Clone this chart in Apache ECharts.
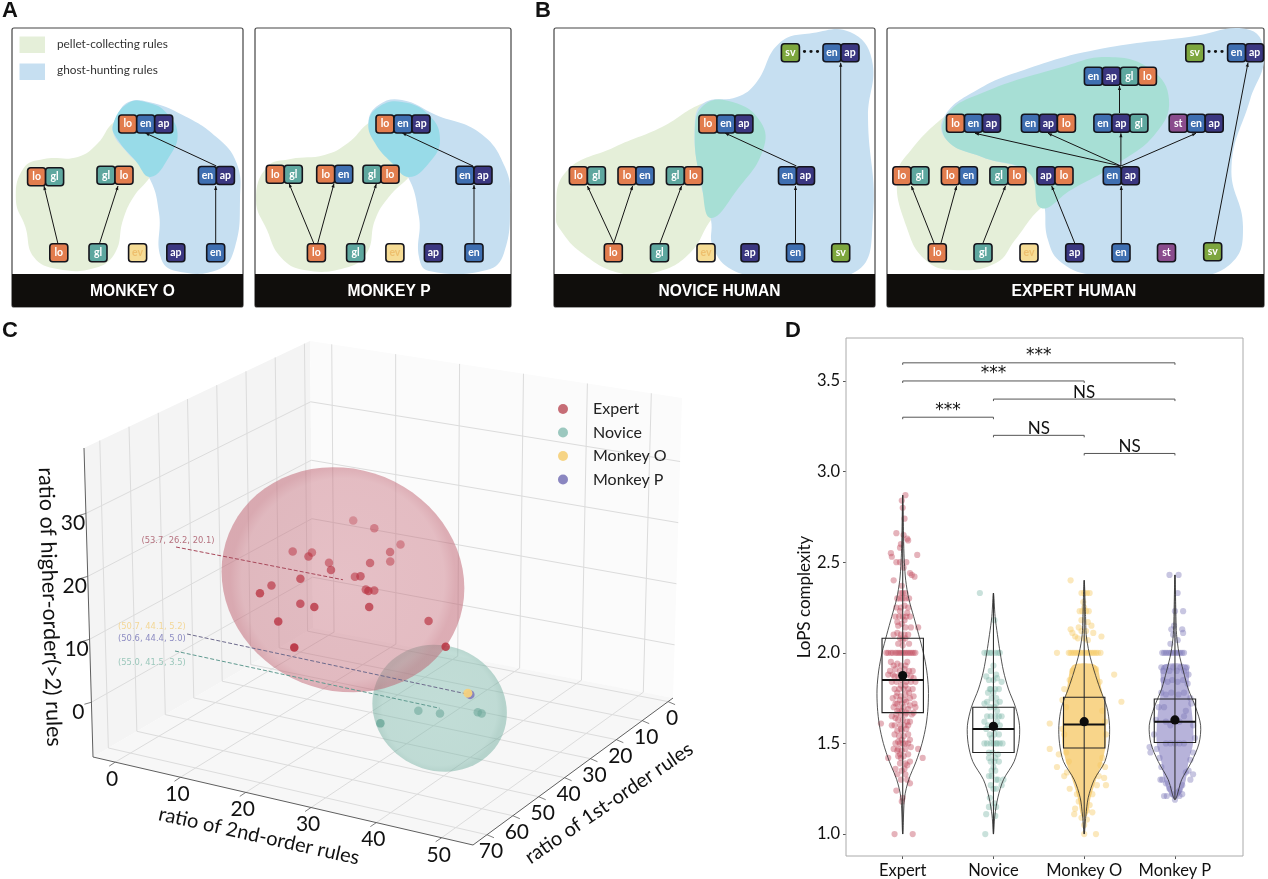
<!DOCTYPE html>
<html><head><meta charset="utf-8"><style>html,body{margin:0;padding:0;background:#fff}#c{width:1268px;height:879px}</style>
<script src="https://cdn.jsdelivr.net/npm/echarts@6/dist/echarts.min.js"></script></head><body><div id="c"></div><script>
// ---------- Panel C values: [1st-order, 2nd-order, higher-order] ----------
const expertFirst=[58.7,48.7,58.7,48.7,58.7,48.7,58.7,48.7,58.7,48.7,58.7,48.7,58.7,48.7,58.7,48.7,58.7,48.7,58.7,48.7,58.7,48.7,58.7,48.7,58.7,48.7];
const expertSecond=[30.05,28.95,37.25,31.35,35.65,28.25,26.25,22.2,20.7,18.75,23.65,17.45,17.35,11.15,21.75,19.55,18.3,16.35,30.2,26.75,31.85,27.95,33.15,28.05,41.45,39.85];
const expertHigher=[31.3,27.5,28.9,24.2,26.0,21.9,24.0,19.6,24.7,21.1,25.1,17.3,18.7,13.7,16.7,13.2,13.2,6.1,22.6,19.5,20.9,17.4,21.0,14.9,17.9,11.0];
const noviceFirst=[55,55,55,55,55];
const noviceSecond=[38.2,41.55,47.4,48.0,32.3];
const noviceHigher=[2.4,2.7,4.1,4.05,-0.8];
const groupMeans={Expert:[53.7,26.2,20.1],Novice:[55.0,41.5,3.5],'Monkey O':[50.7,44.1,5.2],'Monkey P':[50.6,44.4,5.0]};
const groupRadii={Expert:[18,17,16.8],Novice:[10.2,9.5,9.2]};
const groupNames=['Expert','Novice','Monkey O','Monkey P'];
const firstTicks=[0,10,20,30,40,50,60,70];
const secondTicks=[0,10,20,30,40,50];
const higherTicks=[0,10,20,30];
// ---------- Panel D values ----------
const boxStats=[[1.0,1.67,1.85,2.08,2.87],[1.0,1.45,1.58,1.70,2.33],[1.0,1.475,1.605,1.755,2.4],[1.19,1.505,1.62,1.745,2.43]];
const meanValues=[1.875,1.595,1.62,1.63];
const complexityTicks=[1,1.5,2,2.5,3,3.5];
const brackets=[[0,3,3.6,'***'],[0,2,3.5,'***'],[1,3,3.4,'NS'],[0,1,3.3,'***'],[1,2,3.2,'NS'],[2,3,3.1,'NS']];
const violinLevels=[
 [1.0,1.2,1.3,1.4,1.5,1.6,1.7,1.8,1.9,2.0,2.1,2.2,2.3,2.4,2.5,2.6,2.87],
 [1.0,1.1,1.2,1.3,1.4,1.5,1.6,1.7,1.8,1.9,2.0,2.1,2.2,2.33],
 [1.0,1.1,1.2,1.3,1.4,1.5,1.6,1.7,1.8,1.9,2.0,2.1,2.2,2.4],
 [1.19,1.3,1.4,1.5,1.6,1.7,1.8,1.9,2.0,2.1,2.2,2.43]];
const violinWidths=[
 [0,.02,.066,.147,.213,.257,.279,.283,.265,.228,.176,.121,.066,.033,.018,.011,0],
 [0,.015,.048,.11,.228,.279,.287,.243,.165,.11,.074,.044,.018,0],
 [0,.018,.044,.11,.228,.272,.279,.25,.176,.11,.055,.022,.015,0],
 [0,.074,.184,.265,.283,.228,.147,.092,.044,.018,.011,0]];
const denseLevels=[[],[],[1.1,1.2,1.3,1.4,1.5,1.6,1.7,1.8,1.93],[1.2,1.25,1.3,1.4,1.5,1.6,1.7,1.8,1.93]];
const denseWidths=[[],[],[.03,.07,.13,.2,.24,.24,.23,.19,.13],[.03,.09,.12,.15,.2,.2,.18,.15,.14]];
const expertCloud=[[.03,2.87],[-.01,2.84],[0,2.8],[.02,2.74],[-.07,2.66],[.01,2.65],[.05,2.63],[.06,2.62],[-.02,2.6],[-.03,2.58],[-.13,2.55],[-.12,2.53],[.16,2.54],[-.07,2.5],[-.03,2.5],[.04,2.5],[.01,2.47],[.08,2.44],[.1,2.43],[.13,2.42],[-.1,2.4],[-.01,2.37],[-.02,2.33],[0,2.33],[.03,2.33],[-.06,2.3],[-.03,2.3],[0,2.3],[.03,2.3],[.07,2.3],[-.07,2.25],[-.02,2.25],[.02,2.26],[.06,2.25],[-.08,2.2],[-.04,2.2],[0,2.2],[.04,2.2],[.08,2.2],[-.05,2.15],[-.01,2.16],[.03,2.14],[.09,2.14],[.17,2.14],[-.1,2.1],[-.06,2.11],[-.02,2.1],[.02,2.1],[.06,2.1],[-.03,2.08],[0,2.07],[.03,2.08],[-.18,2],[-.16,2],[-.13,2],[-.11,2],[-.08,2],[-.06,2],[-.04,2],[-.02,2],[0,2],[.02,2],[.04,2],[.06,2],[.08,2],[.1,2],[.12,2],[.14,2],[-.1,1.93],[-.06,1.94],[-.02,1.93],[.03,1.93],[-.14,1.9],[-.08,1.91],[-.03,1.9],[.02,1.91],[.07,1.9],[.11,1.9],[-.16,1.88],[-.11,1.88],[-.05,1.87],[.05,1.88],[.09,1.87],[-.12,1.84],[-.07,1.84],[-.01,1.85],[.04,1.84],[.09,1.84],[.14,1.84],[-.09,1.8],[-.04,1.8],[.01,1.8],[.06,1.8],[.11,1.8],[-.07,1.76],[-.02,1.76],[.03,1.77],[.08,1.75],[-.06,1.72],[-.01,1.72],[.04,1.73],[.13,1.72],[-.1,1.7],[-.04,1.69],[.01,1.7],[.06,1.69],[.14,1.7],[.12,1.67],[-.07,1.66],[-.02,1.66],[.03,1.66],[-.12,1.65],[-.05,1.63],[0,1.63],[.05,1.62],[-.09,1.6],[-.03,1.6],[.02,1.6],[-.24,1.61],[-.06,1.57],[-.01,1.57],[.04,1.58],[-.04,1.54],[.01,1.54],[.06,1.55],[-.08,1.5],[-.03,1.5],[0,1.5],[.03,1.5],[.06,1.5],[-.06,1.46],[-.01,1.46],[.03,1.47],[-.05,1.43],[-.02,1.42],[.01,1.43],[-.16,1.42],[.17,1.47],[.22,1.42],[-.03,1.39],[.03,1.39],[.08,1.4],[-.01,1.35],[.02,1.36],[-.06,1.33],[.05,1.3],[.08,1.28],[-.07,1.24],[0,1.2],[-.01,1.18],[-.09,1.0],[.11,1.0],
 [-.13,1.95],[.05,1.95],[-.09,1.87],[.12,1.86],[-.02,1.82],[.03,1.82],[-.06,1.78],[.07,1.78],[-.11,1.75],[.12,1.76],[-.03,1.74],[.02,1.74],[-.08,1.72],[.08,1.71],[-.01,1.68],[.04,1.67],[-.06,1.68],[.1,1.66],[-.08,1.64],[.08,1.62],[-.12,1.6],[.06,1.6],[-.02,1.58],[-.09,1.55],[.08,1.52],[-.01,1.52],[-.05,1.51],[-.1,1.47],[.06,1.44],[-.03,1.44],[.05,1.38],[-.08,1.36],[.03,1.33],[-.02,1.3],[-.05,1.47],[.09,1.48],[.02,2.18],[-.06,2.17],[.05,2.22],[-.03,2.23],[.07,2.05],[-.05,2.05],[0,2.04]];
const noviceCloud=[[-.15,2.33],[.01,2.18],[-.1,2],[-.07,2],[-.04,2],[-.02,2],[.02,2],[.05,2],[.07,2],[0,1.93],[-.03,1.9],[.03,1.88],[-.08,1.87],[-.05,1.85],[0,1.85],[.04,1.86],[.09,1.84],[-.03,1.8],[.02,1.8],[.06,1.8],[-.06,1.78],[-.02,1.75],[.03,1.75],[-.07,1.73],[.07,1.73],[-.04,1.7],[.01,1.7],[.04,1.68],[-.07,1.65],[-.03,1.65],[.02,1.65],[.06,1.65],[.09,1.65],[-.06,1.6],[-.01,1.6],[.04,1.62],[-.08,1.58],[-.04,1.55],[.01,1.55],[.06,1.55],[-.1,1.5],[-.07,1.5],[-.03,1.5],[0,1.5],[.03,1.5],[.07,1.5],[.1,1.5],[-.05,1.45],[-.01,1.45],[.05,1.44],[-.03,1.4],[.02,1.42],[.06,1.4],[0,1.37],[-.02,1.35],[.02,1.35],[-.05,1.32],[.05,1.3],[.11,1.3],[.09,1.27],[-.03,1.27],[.03,1.25],[-.04,1.2],[.01,1.17],[.03,1.15],[-.08,1.11],[.02,1.1],[-.09,1.0],
 [-.04,1.8],[0,1.78],[-.1,1.72],[.03,1.72],[-.1,1.62],[.07,1.6],[.02,1.58],[-.02,1.53],[.04,1.5],[-.05,1.42],[.01,1.4],[-.02,1.32],[.03,1.3],[0,1.25],[-.05,1.15]];
const monkeyOCloud=[[-.15,2.4],[-.03,2.33],[0,2.33],[.03,2.33],[.06,2.33],[-.01,2.28],[0,2.25],[-.05,2.23],[-.02,2.23],[.02,2.23],[.05,2.23],[-.03,2.18],[.04,2.17],[.08,2.15],[-.06,2.14],[-.03,2.12],[.02,2.12],[.1,2.11],[-.15,2.13],[-.13,2.11],[-.1,2.09],[-.07,2.08],[0,2.08],[.04,2.07],[.19,2.09],[-.3,2],[-.17,2],[-.15,2],[-.13,2],[-.11,2],[-.09,2],[-.07,2],[-.05,2],[-.03,2],[-.01,2],[.01,2],[.03,2],[.05,2],[.07,2],[.09,2],[.11,2],[.13,2],[.15,2],[.18,2],[.33,1.88],[-.22,1.8],[.41,1.73],[-.24,1.74],[-.38,1.61],[-.38,1.47],[-.28,1.44],[-.3,1.37],[-.22,1.32],[.23,1.37],[.22,1.31],[.14,1.27],[.24,1.27],[-.16,1.25],[-.08,1.22],[.09,1.22],[-.06,1.18],[.06,1.16],[-.1,1.14],[.03,1.13],[.09,1.12],[-.11,1.11],[-.03,1.09],[.03,1.08],[0,1.05],[.13,1],[0,1],[-.13,1.9],[.13,1.91],[-.16,1.85],[.17,1.84],[-.2,1.7],[.2,1.68],[.23,1.62],[-.24,1.58],[-.22,1.55],[.24,1.55],[-.2,1.45],[.2,1.42],[-.17,1.4],[.18,1.38],[-.19,1.34],[.16,1.32]];
const monkeyPCloud=[[-.06,2.43],[.04,2.43],[.03,2.33],[0,2.23],[.09,2.23],[-.01,2.15],[-.04,2.13],[.08,2.13],[.09,2.11],[-.02,2.1],[-.05,2.05],[.03,2.07],[-.14,2],[-.12,2],[-.1,2],[-.08,2],[-.06,2],[-.04,2],[-.02,2],[0,2],[.02,2],[.04,2],[.06,2],[.08,2],[.1,2],[-.15,1.92],[-.13,1.9],[-.1,1.92],[-.06,1.9],[-.02,1.92],[.02,1.9],[.06,1.92],[.1,1.9],[.13,1.92],[.15,1.88],[-.13,1.85],[-.08,1.84],[-.03,1.85],[.03,1.84],[.09,1.85],[.14,1.83],[-.15,1.78],[-.1,1.77],[-.04,1.78],[.04,1.77],[.1,1.78],[.17,1.75],[-.18,1.7],[-.12,1.7],[.12,1.68],[.18,1.72],[-.21,1.63],[.2,1.6],[-.23,1.55],[.22,1.53],[-.28,1.48],[-.27,1.45],[-.2,1.47],[.2,1.45],[-.17,1.42],[.17,1.41],[-.15,1.37],[.15,1.35],[.12,1.34],[-.14,1.3],[.2,1.33],[.17,1.3],[-.16,1.3],[-.1,1.28],[.08,1.27],[-.06,1.25],[.05,1.24],[.03,1.23],[-.03,1.22],[.05,1.21],[-.09,1.21],[-.12,1.21],[.08,1.22],[0,1.19],[0,1.5],[-.05,1.5],[.05,1.5],[-.1,1.5],[.1,1.5],[-.05,1.6],[.05,1.62],[-.1,1.62],[.1,1.65]];
const cloudByGroup=[expertCloud,noviceCloud,monkeyOCloud,monkeyPCloud];

// ---------- Panels A/B: rule graphs ----------
const tileColors={lo:'#e27d4e',gl:'#5ea79f',en:'#3f6fb1',ap:'#3b3781',ev:'#f6dc95',sv:'#7da63e',st:'#8a4c8d'};
const panelFrames=[[12,243,'MONKEY O',132.5],[255,511,'MONKEY P',389],[554,875,'NOVICE HUMAN',719.5],[887,1264,'EXPERT HUMAN',1074]];
const ruleNodes=[
 ['lo',58.8,252.7],['gl',98,252.7],['ev',137.6,252.7],['ap',175.8,252.7],['en',215.7,252.7],
 ['lo gl',45.6,176.7],['gl lo',115,175.3],['en ap',216.4,175.5],['lo en ap',145.7,124],
 ['lo',316.4,252.7],['gl',355.6,252.7],['ev',394.9,252.7],['ap',433.4,252.7],['en',474,252.7],
 ['lo gl',284.3,174.3],['lo en',334.7,174.3],['gl lo',381,174.3],['en ap',474,175.3],['lo en ap',403,124],
 ['lo',613.3,252.7],['gl',659.5,252.7],['ev',706,252.7],['ap',750,252.7],['en',795.5,252.7],['sv',840.7,252.7],
 ['lo gl',587.4,175.7],['lo en',636,175.7],['gl lo',684.4,175.7],['en ap',796.5,175.7],['lo en ap',725.9,124],['sv',790.4,52.7],['en ap',841,52.7],
 ['lo',937.3,252.7],['gl',983,252.7],['ev',1029,252.7],['ap',1074.7,252.7],['en',1121,252.7],['st',1166.5,252.7],['sv',1212.7,251.7],
 ['lo gl',910.9,175.7],['lo en',959.4,175.7],['gl lo',1007.9,175.7],['ap lo',1055,175.7],['en ap',1121.3,175.7],
 ['lo en ap',973.5,123.3],['en ap lo',1048.4,123.3],['en ap gl',1120.9,123.3],['st en ap',1196.2,123.3],['en ap gl lo',1120.4,76.3],['sv',1194.8,52.7],['en ap',1245.6,52.7]];
const ruleArrows=[[58,244,44,186],[99.7,243,118,186],[215.7,243,215.7,186],[216.4,166,145.4,133],
 [313.7,243,289,183.5],[317.8,243,334,183.5],[357,243,376.3,184],[474,243,474,185],[473,166,402.3,133],
 [613.8,243,587.4,186],[613.8,243,632.6,186],[660,243,681.6,186],[795.5,243,795.5,186],[796.5,166,725,133],[840.7,243,840.7,62.7],
 [934,243,911.4,186],[941,243,956.6,186],[983,243,1005.5,186],[1074.7,243,1051.7,186],[1121.3,243,1121.3,186],[1213.6,243,1248,62.7],
 [1120.9,166,975,133.3],[1120.9,166,1048,133.3],[1120.9,166,1120.9,133.3],[1120.9,166,1196,133.3],[1119.5,113,1119.5,86]];
const blobs=[
 ['#e5efd9',[[15.9,200],[23.7,168],[44,159],[77.8,157],[98,143],[113,123],[135,113],[166,123],[169,143],[150,177],[133.5,197],[123,220],[115,253],[94.7,268],[57.5,269],[33.8,257],[25.4,227]]],
 ['#c6dff1',[[116.6,117],[128.5,102],[148.7,102],[182.6,115],[216.4,137],[236.6,163],[240,200],[235,247],[219.7,269],[175.8,271],[160.6,257],[159,213],[148.7,177],[125,150],[113,132]]],
 ['#98dbe8',[[113,125],[128.5,103],[148.7,103],[165.6,112],[177.5,133],[169,157],[150.4,177],[135,160],[118,140]]],
 ['#e5efd9',[[256,200],[267,167],[290.7,159],[324.5,155],[348,143],[368.5,123],[388.8,112],[429,127],[439.5,143],[409,177],[388.8,197],[375,220],[366.8,253],[344.8,268],[304,270],[280.6,257],[267,230]]],
 ['#c6dff1',[[368.5,123],[378.6,105],[402,100],[436,115],[480,133],[505,167],[510,200],[504,253],[486.8,270],[429,271],[419,257],[419,217],[405.7,173],[378.6,147]]],
 ['#98dbe8',[[368.5,123],[378.6,107],[402,102],[429,115],[440,140],[429,163],[409,177],[392,163],[375,143]]],
 ['#e5efd9',[[556,217],[565,173],[614.7,147],[662,127],[704,103],[732.5,102],[760.7,123],[763,150],[737,190],[711,220],[690,253],[657,272],[619.5,273],[581.8,253],[560.6,230]]],
 ['#c6dff1',[[694.8,123],[704,103],[737,97],[756,83],[779.5,43],[812.5,33],[850,32],[872,60],[868,117],[873,217],[855,272],[765,275],[732.4,270],[713,247],[711,220],[700,180]]],
 ['#a7dfd5',[[694.8,133],[704,105],[732.5,102],[760.7,122],[763,150],[737,190],[711,218],[702,187]]],
 ['#e5efd9',[[897,177],[911,150],[949,113],[982,93],[1062,67],[1109,57],[1151.5,70],[1169,100],[1156,133],[1118.5,163],[1071,190],[1041,208],[1015,240],[996,263],[953.7,270],[925.5,260],[906.6,227]]],
 ['#c6dff1',[[944,117],[946.7,140],[982,157],[1029,173],[1043,200],[1048,240],[1062,263],[1095,275],[1189,277],[1231.5,263],[1243,227],[1231.5,167],[1250,100],[1264,57],[1250,30],[1189,37],[1095,50],[1024,70],[977,90]]],
 ['#a7dfd5',[[946.7,115],[982,93],[1062,67],[1109,57],[1151.5,70],[1169,100],[1156,133],[1118.5,163],[1071,190],[1041,208],[1029,173],[982,157],[946.7,140]]]];

// ---------- layout ----------
const FONT='Lato';
const A_MIN=-1.9,A_MAX=75.4,B_MIN=-3.4,B_MAX=54.8,C_MIN=-8.7,C_MAX=40.4;
const boxBottom={back:[313,628],left:[93,757],right:[673,698],front:[473,845]};
const boxTop={back:[310,341],left:[84,448],right:[682,398],front:[469,515]};
function project(a,b,c){
 const u=(a-A_MIN)/(A_MAX-A_MIN),v=(b-B_MIN)/(B_MAX-B_MIN),w=(c-C_MIN)/(C_MAX-C_MIN);
 const mix=k=>{const q=s=>(1-u)*(1-v)*s.back[k]+u*(1-v)*s.left[k]+(1-u)*v*s.right[k]+u*v*s.front[k];return q(boxBottom)*(1-w)+q(boxTop)*w;};
 return [mix(0),mix(1)];
}
function ellipsePoints(mean,r){
 const c=project(...mean),J=[0,1,2].map(i=>{const m=mean.slice();m[i]+=1;const p=project(...m);return [(p[0]-c[0])*r[i],(p[1]-c[1])*r[i]];});
 let xx=0,xy=0,yy=0;J.forEach(j=>{xx+=j[0]*j[0];xy+=j[0]*j[1];yy+=j[1]*j[1];});
 const l11=Math.sqrt(xx),l21=xy/l11,l22=Math.sqrt(yy-l21*l21),pts=[];
 for(let t=0;t<72;t++){const s=Math.sin(t*Math.PI/36),k=Math.cos(t*Math.PI/36);pts.push([c[0]+l11*k,c[1]+l21*k+l22*s]);}
 return pts;
}
function pageSeries(z,items,draw){
 return {type:'custom',xAxisIndex:0,yAxisIndex:0,coordinateSystem:'cartesian2d',z,silent:true,clip:false,animation:false,
  data:items.map((d,i)=>[i,0]),renderItem:(params,api)=>draw(items[params.dataIndex],p=>api.coord(p))};
}
function plotSeries(z,items,draw){
 return {type:'custom',xAxisIndex:1,yAxisIndex:1,coordinateSystem:'cartesian2d',z,silent:true,clip:false,animation:false,
  data:items.map((d,i)=>[i,1]),renderItem:(params,api)=>draw(items[params.dataIndex],p=>api.coord(p))};
}
const seg=(a,b,stroke,w,dash)=>({type:'line',shape:{x1:a[0],y1:a[1],x2:b[0],y2:b[1]},style:{stroke,lineWidth:w,lineDash:dash||null}});
const txt=(p,text,size,fill,o)=>Object.assign({type:'text',x:p[0],y:p[1],rotation:(o&&o.rot)||0,style:{text,fontSize:size,fontFamily:(o&&o.font)||FONT,fontWeight:(o&&o.weight)||'normal',fill,align:(o&&o.align)||'center',verticalAlign:'middle'}});

// ---- A/B series ----
const diagramSeries=[
 pageSeries(2,[0,1,2,3],(d,P)=>{const f=panelFrames[d],a=P([f[0],28]),b=P([f[1],307]);return {type:'rect',shape:{x:a[0],y:a[1],width:b[0]-a[0],height:b[1]-a[1],r:2},style:{fill:'#fff',stroke:'#444',lineWidth:1.2}};}),
 pageSeries(3,blobs,(d,P)=>({type:'polygon',shape:{points:d[1].map(P),smooth:.45},style:{fill:d[0]}})),
 pageSeries(4,[0,1,2,3],(d,P)=>{const f=panelFrames[d],a=P([f[0],274]),b=P([f[1],307]);return {type:'group',children:[
   {type:'rect',shape:{x:a[0],y:a[1],width:b[0]-a[0],height:b[1]-a[1],r:[0,0,2,2]},style:{fill:'#100e0c'}},
   txt(P([f[3],291.5]),f[2],15.6,'#fff',{font:'Liberation Sans',weight:'bold'})]};}),
 pageSeries(4,[[19.5,36.5,'#e5efd9','pellet-collecting rules',44.5],[19.5,63.5,'#c6dff1','ghost-hunting rules',70.5]],(d,P)=>{const a=P([d[0],d[1]]);return {type:'group',children:[
   {type:'rect',shape:{x:a[0],y:a[1],width:25.5,height:16.5},style:{fill:d[2]}},
   txt(P([57,d[4]]),d[3],11.8,'#333',{align:'left'})]};}),
 pageSeries(5,ruleArrows,(d,P)=>{const a=P([d[0],d[1]]),b=P([d[2],d[3]]),t=Math.atan2(b[1]-a[1],b[0]-a[0]),L=4,W=1.6;
   const c=[b[0]-L*Math.cos(t),b[1]-L*Math.sin(t)];
   return {type:'group',children:[seg(a,b,'#151515',1),{type:'polygon',shape:{points:[b,[c[0]-W*Math.sin(t),c[1]+W*Math.cos(t)],[c[0]+W*Math.sin(t),c[1]-W*Math.cos(t)]]},style:{fill:'#151515'}}]};}),
 pageSeries(6,ruleNodes,(d,P)=>{const names=d[0].split(' '),w=18,h=18,c=P([d[1],d[2]]),x0=c[0]-names.length*w/2;
   const kids=[];names.forEach((n,i)=>{kids.push({type:'rect',shape:{x:x0+i*w,y:c[1]-h/2,width:w,height:h,r:3},style:{fill:tileColors[n],stroke:'#14141c',lineWidth:1.6}});});
   names.forEach((n,i)=>{kids.push(txt([x0+(i+.5)*w,c[1]],n,10.5,n==='ev'?'#eebf6e':'#fff',{weight:'bold'}));});
   return {type:'group',children:kids};}),
 pageSeries(7,[[811,52],[1215.5,52]],(d,P)=>txt(P(d),'•••',11,'#111',{font:'DejaVu Sans'}))
];

// ---- C series ----
const wallItems=[['back','left','#f4f4f4'],['back','right','#fbfbfb']];
const gridItems=[];
firstTicks.forEach(a=>{gridItems.push([[a,B_MIN,C_MIN],[a,B_MIN,C_MAX]]);gridItems.push([[a,B_MIN,C_MIN],[a,B_MAX,C_MIN]]);});
secondTicks.forEach(b=>{gridItems.push([[A_MIN,b,C_MIN],[A_MIN,b,C_MAX]]);gridItems.push([[A_MIN,b,C_MIN],[A_MAX,b,C_MIN]]);});
higherTicks.forEach(c=>{gridItems.push([[A_MAX,B_MIN,c],[A_MIN,B_MIN,c]]);gridItems.push([[A_MIN,B_MIN,c],[A_MIN,B_MAX,c]]);});
const edgeItems=[[[A_MAX,B_MIN,C_MIN],[A_MAX,B_MAX,C_MIN]],[[A_MIN,B_MAX,C_MIN],[A_MAX,B_MAX,C_MIN]],[[A_MAX,B_MIN,C_MIN],[A_MAX,B_MIN,C_MAX]]];
const tickItems=[];
firstTicks.forEach(a=>tickItems.push({at:[a,B_MAX,C_MIN],t:[7,3],lab:[4,17],s:String(a)}));
secondTicks.forEach(b=>tickItems.push({at:[A_MAX,b,C_MIN],t:[-6,4],lab:[-3,17],s:String(b)}));
higherTicks.forEach(c=>tickItems.push({at:[A_MAX,B_MIN,c],t:[-7,2],lab:[-13,10],s:String(c)}));
const axisTitles=[['ratio of 2nd-order rules',259,836,-0.22,20],['ratio of 1st-order rules',609,803,0.6,20],['ratio of higher-order(>2) rules',50,607,-1.54,21.5]];
const leaders=[
 ['Expert',[176,547],'#a8485a',[178,541],'(53.7, 26.2, 20.1)','#b5727f'],
 ['Monkey P',[187,634],'#6d6a8c',[118,639],'(50.6, 44.4, 5.0)','#8d8cc2'],
 ['Novice',[175,651],'#5f9a90',[118,663],'(55.0, 41.5, 3.5)','#9cc8bc']];
const pale={pos:[118,627],text:'(50.7, 44.1, 5.2)',color:'#f3d797'};
const volumeSeries=[
 pageSeries(8,wallItems,(d,P)=>{const k=d[1];return {type:'polygon',shape:{points:[boxBottom.back,boxBottom[k],boxTop[k],boxTop.back].map(P)},style:{fill:d[2]}};}),
 pageSeries(8,[0],(d,P)=>({type:'polygon',shape:{points:[boxBottom.back,boxBottom.left,boxBottom.front,boxBottom.right].map(P)},style:{fill:'#f7f7f7'}})),
 pageSeries(9,gridItems,(d,P)=>seg(P(project(...d[0])),P(project(...d[1])),'#dcdcdc',1)),
 pageSeries(9,edgeItems,(d,P)=>seg(P(project(...d[0])),P(project(...d[1])),'#5f5f5f',1)),
 pageSeries(9,tickItems,(d,P)=>{const p=P(project(...d.at));return {type:'group',children:[seg(p,[p[0]+d.t[0],p[1]+d.t[1]],'#5f5f5f',.8),txt([p[0]+d.lab[0],p[1]+d.lab[1]],d.s,21,'#111')]};}),
 pageSeries(9,axisTitles,(d,P)=>txt(P([d[1],d[2]]),d[0],d[4],'#111',{rot:d[3]})),
 pageSeries(10,['Novice','Expert'],(d,P)=>{const E=d==='Expert',g=new echarts.graphic.RadialGradient(.5,.5,.5,E?[{offset:0,color:'rgba(200,110,125,.42)'},{offset:.9,color:'rgba(198,108,122,.44)'},{offset:1,color:'rgba(190,95,110,.5)'}]:[{offset:0,color:'rgba(120,185,170,.42)'},{offset:.9,color:'rgba(118,182,167,.43)'},{offset:1,color:'rgba(110,172,157,.48)'}]);
   return {type:'polygon',shape:{points:ellipsePoints(groupMeans[d],groupRadii[d]).map(P)},style:{fill:g}};}),
 pageSeries(12,leaders,(d,P)=>seg(P(d[1]),P(project(...groupMeans[d[0]])),d[2],1,[4,2])),
 pageSeries(12,leaders,(d,P)=>txt(P(d[3]),d[4],8.4,d[5],{font:'DejaVu Sans',align:d[0]==='Expert'?'center':'left'})),
 pageSeries(12,[pale],(d,P)=>txt(P(d.pos),d.text,8.4,d.color,{font:'DejaVu Sans',align:'left'}))
];
const dotColors={Expert:'#b8303f',Novice:'#6ea99b'};
const legendColors={Expert:'#b94a55',Novice:'#85bbb0','Monkey O':'#f6d27e','Monkey P':'#8480bd'};
const meanDot=(name)=>({name,type:'scatter',xAxisIndex:0,yAxisIndex:0,z:name==='Monkey O'?14:13,symbolSize:9,animation:false,silent:true,
  itemStyle:{color:legendColors[name],opacity:.95},data:[project(...groupMeans[name])]});
const expertDots={name:'Expert',type:'scatter',xAxisIndex:0,yAxisIndex:0,z:11,symbolSize:8.5,animation:false,silent:true,itemStyle:{color:legendColors.Expert},
  data:expertFirst.map((a,i)=>({value:project(a,expertSecond[i],expertHigher[i]),itemStyle:{color:dotColors.Expert,opacity:Math.min(.9,Math.max(.32,.95-(expertHigher[i]-6)/26*.62))}}))};
const noviceDots={name:'Novice',type:'scatter',xAxisIndex:0,yAxisIndex:0,z:11,symbolSize:8.5,animation:false,silent:true,itemStyle:{color:legendColors.Novice},
  data:noviceFirst.map((a,i)=>({value:project(a,noviceSecond[i],noviceHigher[i]),itemStyle:{color:dotColors.Novice,opacity:i===4?.85:.6}}))};

// ---- D series ----
const cloudColors=['#c14a5c','#7fb7a9','#f6c75f','#7d77b8'];
const denseColors=['','','#f8d58a','#aaa6d3'];
const cloudSeries=cloudByGroup.map((pts,g)=>({name:groupNames[g],type:'scatter',xAxisIndex:1,yAxisIndex:1,z:21,symbolSize:6.2,animation:false,silent:true,
  itemStyle:{color:cloudColors[g],opacity:.42},data:pts.map(p=>[g+p[0],p[1]])}));
const outline=(g,levels,widths)=>{const r=[],l=[];levels.forEach((y,i)=>{r.push([g+widths[i],y]);if(widths[i]>0)l.unshift([g-widths[i],y]);});return r.concat(l);};
const plotParts=[
 plotSeries(20,[2,3],(g,P)=>({type:'polygon',shape:{points:outline(g,denseLevels[g],denseWidths[g]).map(P),smooth:.25},style:{fill:denseColors[g],opacity:g===2?1:.85}})),
 plotSeries(22,[0,1,2,3],(g,P)=>({type:'polygon',shape:{points:outline(g,violinLevels[g],violinWidths[g]).map(P),smooth:.3},style:{fill:'none',stroke:'#2a2a2a',lineWidth:.8}})),
 plotSeries(23,[0,1,2,3],(g,P)=>{const s=boxStats[g],hw=.228,a=P([g-hw,s[3]]),b=P([g+hw,s[1]]);return {type:'group',children:[
   seg(P([g,s[0]]),P([g,s[4]]),'#333',1.1),
   {type:'rect',shape:{x:a[0],y:a[1],width:b[0]-a[0],height:b[1]-a[1]},style:{fill:'none',stroke:'#222',lineWidth:1.1}},
   seg(P([g-hw,s[2]]),P([g+hw,s[2]]),'#111',2),
   {type:'circle',shape:{cx:P([g,meanValues[g]])[0],cy:P([g,meanValues[g]])[1],r:4.6},style:{fill:'#0c0c0c'}}]};}),
 plotSeries(24,brackets,(d,P)=>{const a=P([d[0],d[2]]),b=P([d[1],d[2]]),st=d[3]==='***';return {type:'group',children:[
   seg(a,[a[0],a[1]+2],'#555',1),seg(a,b,'#555',1),seg(b,[b[0],b[1]+2],'#555',1),
   txt([(a[0]+b[0])/2,a[1]-7],d[3],17,'#111',{font:st?'DejaVu Sans':FONT})]};})
];

const option={animation:false,backgroundColor:'#fff',
 grid:[{left:0,top:0,width:1268,height:879,show:false},{left:846,top:338,width:397,height:519,show:true,borderColor:'#aaaaaa',borderWidth:1,backgroundColor:'transparent',z:19}],
 xAxis:[{type:'value',gridIndex:0,min:0,max:1268,show:false},
  {type:'value',gridIndex:1,min:-.625,max:3.75,splitLine:{show:false},axisLine:{show:false,onZero:false},
   axisTick:{customValues:[0,1,2,3],length:3,lineStyle:{color:'#555'}},
   axisLabel:{customValues:[0,1,2,3],formatter:v=>groupNames[v],fontFamily:FONT,fontSize:16.5,color:'#111',margin:6}}],
 yAxis:[{type:'value',gridIndex:0,min:0,max:879,inverse:true,show:false},
  {type:'value',gridIndex:1,min:.879,max:3.737,splitLine:{show:false},axisLine:{show:false,onZero:false},
   axisTick:{customValues:complexityTicks,length:3,lineStyle:{color:'#555'}},
   axisLabel:{customValues:complexityTicks,formatter:v=>v.toFixed(1),fontFamily:FONT,fontSize:16.5,color:'#111',margin:6,padding:[3,0,0,0]},
   name:'LoPS complexity',nameLocation:'middle',nameRotate:90,nameGap:26,nameTextStyle:{fontFamily:FONT,fontSize:17,color:'#111'}}],
 legend:{show:true,left:553,top:396,orient:'vertical',itemWidth:50,itemHeight:10,itemGap:7.5,selectedMode:false,icon:'circle',
  data:groupNames,textStyle:{fontFamily:FONT,fontSize:16,color:'#222'},z:30},
 graphic:[['A',2,11],['B',535,11],['C',2,331],['D',785,331]].map(l=>({type:'text',x:l[1],y:l[2]-11,z:40,style:{text:l[0],fontFamily:'Liberation Sans',fontWeight:'bold',fontSize:22,fill:'#111'}})),
 series:[].concat(diagramSeries,volumeSeries,[expertDots,noviceDots,meanDot('Monkey P'),meanDot('Monkey O')],cloudSeries,plotParts)
};
echarts.init(document.getElementById('c'),null,{renderer:'canvas'}).setOption(option);
</script></body></html>
